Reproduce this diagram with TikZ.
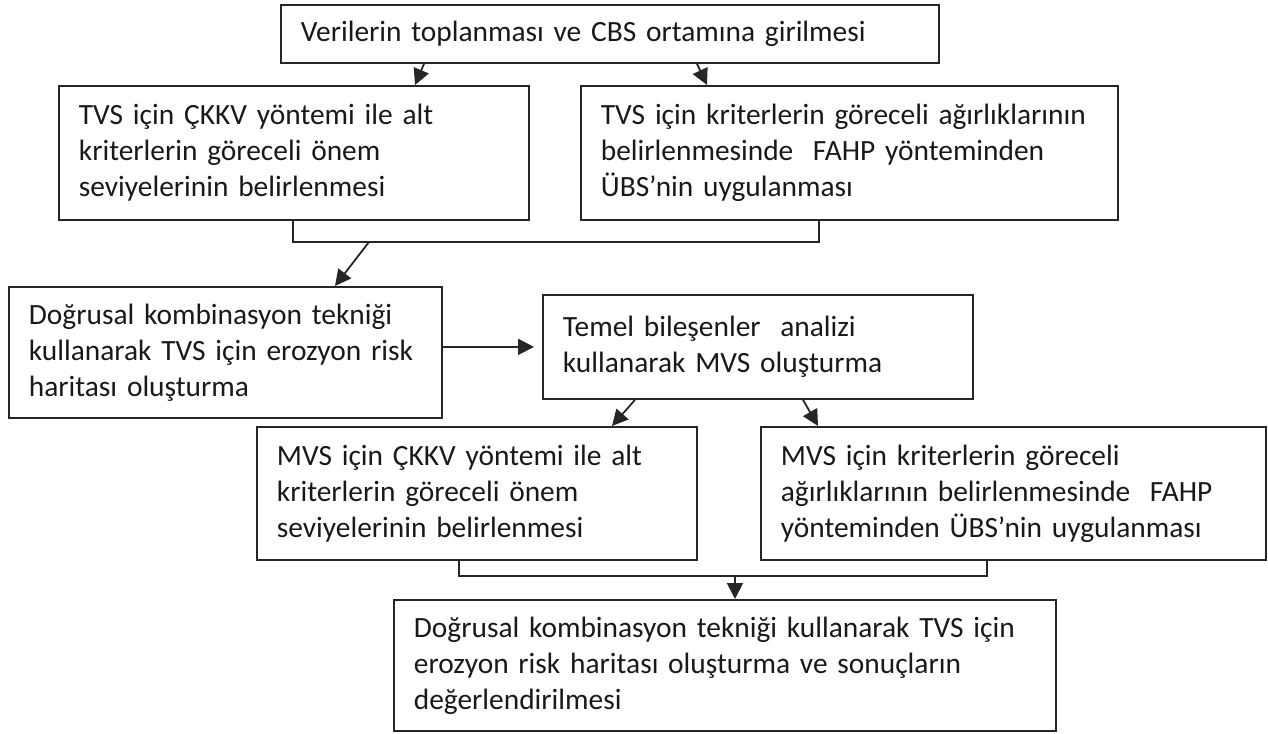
\documentclass[tikz,border=0pt]{standalone}
\usepackage{fontspec}
\setmainfont{Carlito}
\usetikzlibrary{arrows.meta,calc}

\begin{document}
\begin{tikzpicture}[
  box/.style 2 args={draw=black!85, line width=0.9pt, anchor=north west, align=left,
    inner xsep=10pt, inner ysep=0pt, text width=#1, minimum height=#2,
    font=\fontsize{14.7pt}{18pt}\selectfont, text=black!90},
  link/.style={draw=black!85, line width=0.9pt},
  >={Triangle[length=8pt,width=8pt]}]
\useasboundingbox (0,0) rectangle (634pt,-366.5pt);
% boxes
\node[box={309pt}{29pt}] (A) at (140pt,-2pt) {Verilerin toplanması ve CBS ortamına girilmesi};
\node[box={215pt}{67pt}] (B1) at (29pt,-42.5pt) {TVS için ÇKKV yöntemi ile alt\\ kriterlerin göreceli önem\\ seviyelerinin belirlenmesi};
\node[box={248.5pt}{67pt}] (B2) at (290pt,-42.5pt) {TVS için kriterlerin göreceli ağırlıklarının\\ belirlenmesinde~ FAHP yönteminden\\ ÜBS’nin uygulanması};
\node[box={196.5pt}{65.5pt}] (C) at (4pt,-143pt) {Doğrusal kombinasyon tekniği\\ kullanarak TVS için erozyon risk\\ haritası oluşturma};
\node[box={195pt}{52pt}] (T) at (271pt,-147pt) {Temel bileşenler~ analizi\\ kullanarak MVS oluşturma};
\node[box={200pt}{66.5pt}] (D1) at (128pt,-213pt) {MVS için ÇKKV yöntemi ile alt\\ kriterlerin göreceli önem\\ seviyelerinin belirlenmesi};
\node[box={232.5pt}{66.5pt}] (D2) at (380pt,-213pt) {MVS için kriterlerin göreceli\\ ağırlıklarının belirlenmesinde~ FAHP\\ yönteminden ÜBS’nin uygulanması};
\node[box={311pt}{65.5pt}] (E) at (196.5pt,-299.5pt) {Doğrusal kombinasyon tekniği kullanarak TVS için\\ erozyon risk haritası oluşturma ve sonuçların\\ değerlendirilmesi};
% junctions of the brackets
\coordinate (j1) at (184.5pt,-121pt);
\coordinate (j2) at (367.5pt,-288pt);
% connectors
\draw[link,->] ([xshift=72pt]A.south west) -- ([xshift=178.5pt]B1.north west);
\draw[link,->] ([xshift=208.5pt]A.south west) -- ([xshift=63.5pt]B2.north west);
\draw[link] ([xshift=117.5pt]B1.south west) |- (j1) -| ([xshift=119.5pt]B2.south west);
\draw[link,->] (j1) -- ([xshift=163.5pt]C.north west);
\draw[link,->,shorten >=4pt] (C.east |- T.west) -- (T.west);
\draw[link,->] ([xshift=46.5pt]T.south west) -- ([xshift=178pt]D1.north west);
\draw[link,->] ([xshift=130.5pt]T.south west) -- ([xshift=29pt]D2.north west);
\draw[link] ([xshift=101.5pt]D1.south west) |- (j2) -| ([xshift=113.5pt]D2.south west);
\draw[link,->] (j2) -- (j2 |- E.north);
\end{tikzpicture}
\end{document}
